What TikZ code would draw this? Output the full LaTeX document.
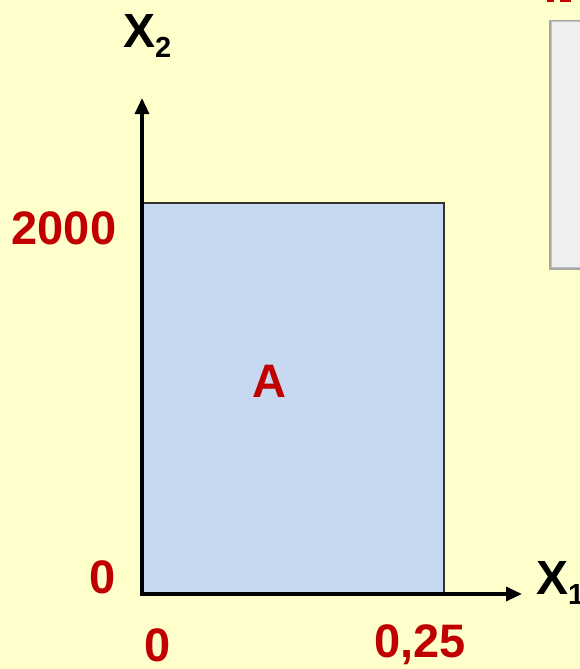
\documentclass[tikz,border=0pt]{standalone}
\usepackage{fontspec}
\setmainfont{Liberation Sans}
\usetikzlibrary{arrows.meta}
\definecolor{bgy}{HTML}{FFFFCC}
\definecolor{redt}{HTML}{C00000}
\definecolor{bluef}{HTML}{C6D9F1}
\definecolor{boxg}{HTML}{EFEFEF}
\tikzset{
  lab/.style={text=redt,font=\bfseries\fontsize{47}{50}\selectfont,inner sep=0pt},
  axl/.style={font=\bfseries\fontsize{48}{52}\selectfont,inner sep=0pt},
  axis/.style={line width=3.2pt,-{Triangle[length=16pt,width=14pt]}}
}
\begin{document}
\begin{tikzpicture}[x=1pt,y=-1pt]
\fill[bgy] (0,0) rectangle (580,669);
\useasboundingbox (0,0) rectangle (580,669);
% gray box
\fill[gray!70] (549,20) rectangle (582,270);
\draw[boxg!60!gray,line width=1pt,fill=boxg] (551,22) rectangle (584,267);
% red cut-off marks
\fill[redt] (547,0) rectangle (554,2);
\fill[redt] (560,0) rectangle (571,2);
% region A
\draw[fill=bluef,line width=1.5pt,draw=black!80] (142,203) rectangle (444,593);
\coordinate (O) at (142,594);
\coordinate (Ytop) at (142,98);
\coordinate (Xend) at (522,594);
\draw[axis] (O) -- (Ytop);
\draw[axis] ([xshift=-1.6pt]O) -- (Xend);
\node[lab] (A) at (269,381) {A};
\node[lab] (y2000) at (64,228) {2000};
\node[lab] (y0) at (103,577) {0};
\node[lab] (x0) at (158,645) {0};
\node[lab] (x025) at (420,645) {0,25};
\node[axl,anchor=base west] (X2) at (123,48) {X\raisebox{-10pt}{\fontsize{29}{30}\selectfont 2}};
\node[axl,anchor=base west] (X1) at (536,594) {X\raisebox{-10pt}{\fontsize{29}{30}\selectfont 1}};
\end{tikzpicture}
\end{document}
